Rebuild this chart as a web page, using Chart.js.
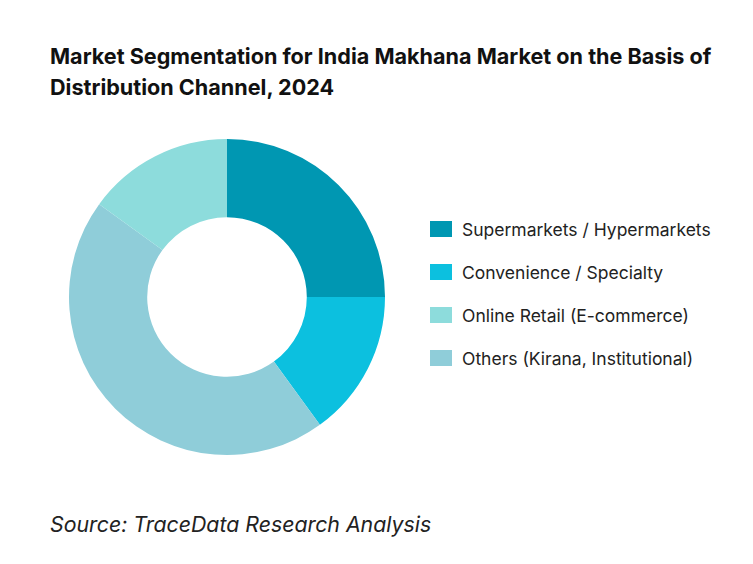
<!DOCTYPE html>
<html><head><meta charset="utf-8">
<script src="https://cdn.jsdelivr.net/npm/chart.js@4/dist/chart.umd.min.js"></script>
<style>
body{margin:0;width:753px;height:564px;background:#fff;font-family:Inter,"Noto Sans",sans-serif;position:relative;overflow:hidden}
#title{position:absolute;left:50px;top:41px;font-size:21.6px;font-weight:700;line-height:31px;color:#111}
#wrap{position:absolute;left:60px;top:130px;width:334px;height:334px}
#legend{position:absolute;left:430px;top:219px;font-size:17.5px;color:#222}
.it{display:flex;align-items:center;height:20px;margin-bottom:23px}
.sw{width:22px;height:16px;margin-right:10px}
#src{position:absolute;left:50px;top:511px;font-size:21.3px;font-style:italic;color:#222}
</style></head><body>
<div id="title">Market Segmentation for India Makhana Market on the Basis of<br>Distribution Channel, 2024</div>
<div id="wrap"><canvas id="c"></canvas></div>
<div id="legend"></div>
<div id="src">Source: TraceData Research Analysis</div>
<script>
/* 그리는 순서 (시계방향, 12시부터) */
const labels = ['Supermarkets / Hypermarkets','Convenience / Specialty','Others (Kirana, Institutional)','Online Retail (E-commerce)'];
const shares = [25, 15, 45, 15];
const colors = ['#0097b2','#0cc0df','#8fcdd9','#8ddcdc'];
/* 범례 순서 */
const legendOrder = [0, 1, 3, 2];

new Chart(document.getElementById('c'), {
  type: 'doughnut',
  data: { labels, datasets: [{ data: shares, backgroundColor: colors, borderWidth: 0 }] },
  options: {
    responsive: true, maintainAspectRatio: false, animation: false,
    cutout: '50.5%', layout: { padding: 9 },
    plugins: { legend: { display: false }, tooltip: { enabled: false } }
  }
});

const lg = document.getElementById('legend');
legendOrder.forEach(i => {
  lg.insertAdjacentHTML('beforeend',
    `<div class="it"><span class="sw" style="background:${colors[i]}"></span>${labels[i]}</div>`);
});
</script>
</body></html>
